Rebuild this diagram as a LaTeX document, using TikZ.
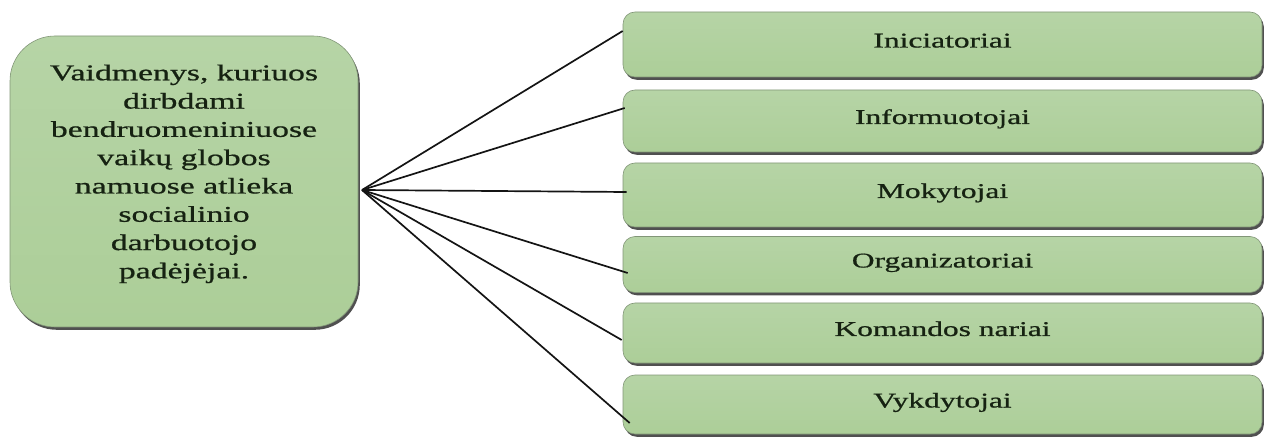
\documentclass[tikz,border=0pt]{standalone}
\usepackage{fontspec}
\usetikzlibrary{calc,shadows}
\newfontfamily\wideserif[FakeStretch=1.5,FakeBold=0.8]{Liberation Serif}
\definecolor{boxtop}{RGB}{182,212,166}
\definecolor{boxmid}{RGB}{152,200,128}
\definecolor{boxbot}{RGB}{172,206,152}
\definecolor{boxedge}{RGB}{130,150,120}
\definecolor{txt}{RGB}{22,34,18}
\tikzset{
  greenbox/.style={draw=boxedge, line width=0.6pt, top color=boxtop, middle color=boxmid, bottom color=boxbot,
    drop shadow={shadow xshift=1.8pt, shadow yshift=-2.8pt, fill=black!72, opacity=0.95},
    text=txt, inner sep=0pt, align=center},
  leftbox/.style={greenbox, rounded corners=45pt, minimum width=348pt, minimum height=291pt,
    text depth=20pt, font=\wideserif\fontsize{22.5}{28.3}\selectfont},
  rightbox/.style={greenbox, rounded corners=12pt, minimum width=639pt,
    text height=15pt, text depth=9pt,
    font=\wideserif\fontsize{21}{25}\selectfont},
  conn/.style={draw=black!92, line width=1.7pt}
}
\begin{document}
\begin{tikzpicture}[x=1pt,y=-1pt]
\useasboundingbox (0,0) rectangle (1272,438);
\node[leftbox] (src) at (184,181.5) {Vaidmenys, kuriuos\\dirbdami\\bendruomeniniuose\\vaikų globos\\namuose atlieka\\socialinio\\darbuotojo\\padėjėjai.};
\node[rightbox, minimum height=65pt] (b1) at (942.5,44.5) {Iniciatoriai};
\node[rightbox, minimum height=62pt] (b2) at (942.5,121) {Informuotojai};
\node[rightbox, minimum height=64pt] (b3) at (942.5,195) {Mokytojai};
\node[rightbox, minimum height=56pt] (b4) at (942.5,264.5) {Organizatoriai};
\node[rightbox, minimum height=60pt] (b5) at (942.5,333) {Komandos nariai};
\node[rightbox, minimum height=59pt] (b6) at (942.5,404.5) {Vykdytojai};
\coordinate (hub) at (362,190);
\draw[conn] (hub) -- ($(b1.west)+(0,-13.5)$);
\draw[conn] (hub) -- ($(b2.west)+(2,-13)$);
\draw[conn] (hub) -- ($(b3.west)+(4,-3)$);
\draw[conn] (hub) -- ($(b4.west)+(5,8.5)$);
\draw[conn] (hub) -- ($(b5.west)+(-1,7)$);
\draw[conn] (hub) -- ($(b6.west)+(7,18.5)$);
\end{tikzpicture}
\end{document}
